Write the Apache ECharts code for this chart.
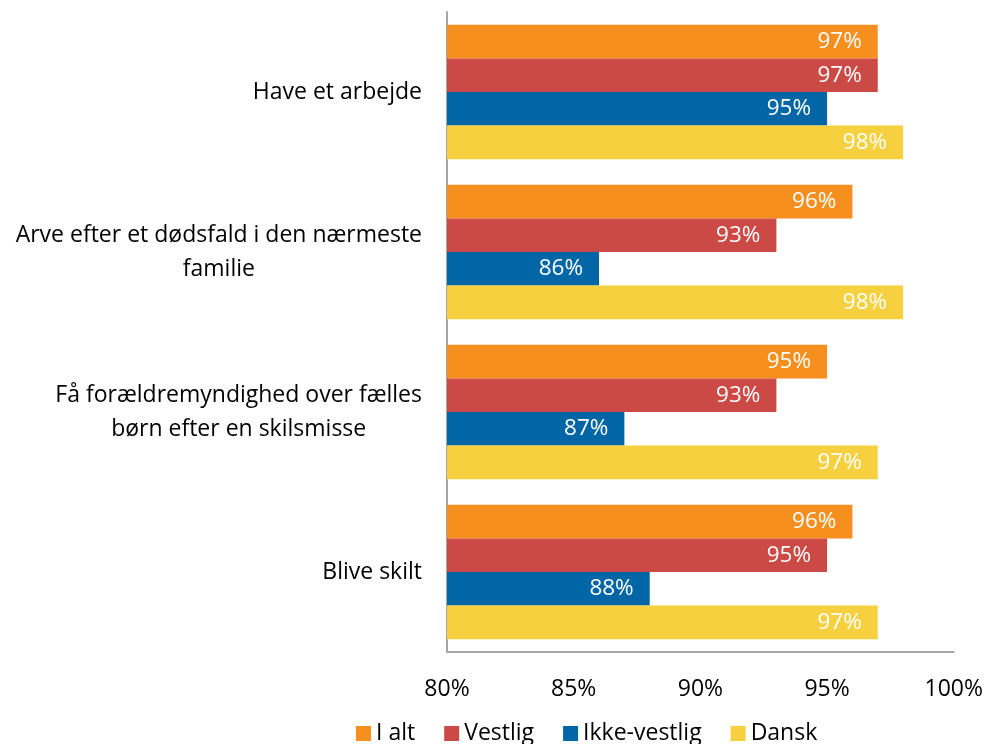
<!DOCTYPE html>
<html>
<head>
<meta charset="utf-8">
<script src="https://cdn.jsdelivr.net/npm/echarts@6/dist/echarts.min.js"></script>
<style>
  html, body { margin: 0; padding: 0; background: #fff; }
  #chart { width: 986px; height: 744px; }
</style>
</head>
<body>
<div id="chart"></div>
<script>
  // data
  var categories = [
    'Have et arbejde',
    'Arve efter et dødsfald i den nærmeste\nfamilie',
    'Få forældremyndighed over fælles\nbørn efter en skilsmisse',
    'Blive skilt'
  ];
  var seriesNames = ['I alt', 'Vestlig', 'Ikke-vestlig', 'Dansk'];
  var iAlt = [97, 96, 95, 96];
  var vestlig = [97, 93, 93, 95];
  var ikkeVestlig = [95, 86, 87, 88];
  var dansk = [98, 98, 97, 97];
  var xTicks = [80, 85, 90, 95, 100];

  var colors = ['#F78F1E', '#CB4A45', '#0066A6', '#F7D03F'];
  var fontFam = '"Open Sans", "Noto Sans", sans-serif';

  var myChart = echarts.init(document.getElementById('chart'));

  function makeSeries(name, data) {
    return {
      name: name,
      type: 'bar',
      data: data,
      barGap: '0%',
      barCategoryGap: '16%',
      label: {
        show: true,
        position: 'insideRight',
        distance: 16,
        color: '#fff',
        fontSize: 22.5,
        fontFamily: fontFam,
        formatter: '{c}%'
      }
    };
  }

  var option = {
    color: colors,
    animation: false,
    grid: { left: 447, right: 32, top: 12, bottom: 92 },
    legend: {
      left: 351,
      bottom: -6,
      itemWidth: 15,
      itemHeight: 15,
      itemGap: 29,
      icon: 'rect',
      data: seriesNames,
      textStyle: { color: '#000', fontSize: 23, fontFamily: fontFam }
    },
    xAxis: {
      type: 'value',
      min: xTicks[0],
      max: xTicks[xTicks.length - 1],
      interval: 5,
      splitLine: { show: false },
      axisTick: { show: false },
      axisLine: { show: true, lineStyle: { color: '#A6A6A6', width: 2 } },
      axisLabel: {
        color: '#000',
        fontSize: 23,
        fontFamily: fontFam,
        margin: 26,
        formatter: '{value}%'
      }
    },
    yAxis: {
      type: 'category',
      inverse: true,
      data: categories,
      axisTick: { show: false },
      axisLine: { show: true, lineStyle: { color: '#A6A6A6', width: 2 } },
      axisLabel: {
        margin: 25,
        formatter: function (v) {
          return v.split('\n').map(function (s) { return '{c|' + s + '}'; }).join('\n');
        },
        rich: {
          c: {
            align: 'center',
            color: '#000',
            fontSize: 23,
            lineHeight: 34,
            fontFamily: fontFam
          }
        }
      }
    },
    series: [
      makeSeries(seriesNames[0], iAlt),
      makeSeries(seriesNames[1], vestlig),
      makeSeries(seriesNames[2], ikkeVestlig),
      makeSeries(seriesNames[3], dansk)
    ]
  };

  myChart.setOption(option);
</script>
</body>
</html>
